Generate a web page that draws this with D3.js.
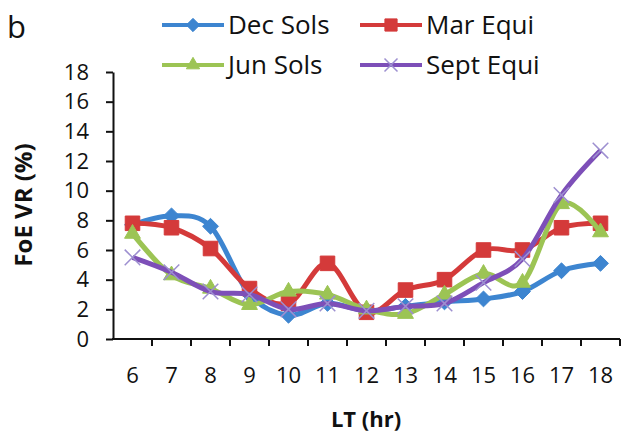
<!DOCTYPE html>
<html>
<head>
<meta charset="utf-8">
<script src="https://cdn.jsdelivr.net/npm/d3@7"></script>
<style>
  body { margin: 0; background: #fff; }
  text { font-family: "Open Sans", sans-serif; fill: #111; }
</style>
</head>
<body>
<svg id="chart" width="625" height="441"></svg>
<script>
// local time (hr)
const hours = [6, 7, 8, 9, 10, 11, 12, 13, 14, 15, 16, 17, 18];
// FoE VR (%) per season
const decSols  = [7.7, 8.3, 7.6, 3.0, 1.6, 2.4, 1.9, 2.2, 2.5, 2.7, 3.2, 4.6, 5.1];
const marEqui  = [7.8, 7.5, 6.1, 3.4, 2.4, 5.1, 1.8, 3.3, 4.0, 6.0, 6.0, 7.5, 7.8];
const junSols  = [7.1, 4.3, 3.4, 2.3, 3.2, 3.0, 2.0, 1.7, 3.0, 4.4, 3.8, 9.1, 7.2];
const septEqui = [5.5, 4.5, 3.2, 3.0, 2.0, 2.4, 1.9, 2.2, 2.4, 3.8, 5.4, 9.7, 12.7];
const seriesNames = ["Dec Sols", "Mar Equi", "Jun Sols", "Sept Equi"];
const yTicks = [0, 2, 4, 6, 8, 10, 12, 14, 16, 18];

const series = [
  { name: seriesNames[0], values: decSols,  color: "#3d85d0", marker: d3.symbolDiamond2, size: 160 },
  { name: seriesNames[1], values: marEqui,  color: "#d43a3a", marker: d3.symbolSquare2,  size: 270 },
  { name: seriesNames[2], values: junSols,  color: "#9cc454", marker: d3.symbolTriangle2, size: 180 },
  { name: seriesNames[3], values: septEqui, color: "#7d4fb8", marker: d3.symbolX,        size: 160 }
];

const svg = d3.select("#chart");

const x = d3.scaleBand().domain(hours).range([113, 620]).padding(0);
const y = d3.scaleLinear().domain([0, 18]).range([339, 72]);

// y axis
const yAxis = svg.append("g")
  .attr("transform", "translate(113,0)")
  .call(d3.axisLeft(y).tickValues(yTicks).tickSize(7).tickSizeOuter(0).tickPadding(17));
yAxis.select(".domain").attr("stroke", "#111").attr("stroke-width", 2);
yAxis.selectAll(".tick line").attr("stroke", "#111").attr("stroke-width", 2);
yAxis.selectAll(".tick text").attr("font-size", 22).attr("font-family", "Open Sans").attr("fill", "#111");

// x axis: ticks sit between categories, like Excel
const xAxis = svg.append("g").attr("transform", "translate(0,339)");
xAxis.append("line")
  .attr("x1", 112).attr("x2", 620)
  .attr("stroke", "#111").attr("stroke-width", 2);
xAxis.selectAll(".bound")
  .data(hours)
  .enter().append("line")
  .attr("x1", d => x(d) + x.bandwidth()).attr("x2", d => x(d) + x.bandwidth())
  .attr("y1", 0).attr("y2", 7)
  .attr("stroke", "#111").attr("stroke-width", 2);
xAxis.selectAll(".lab")
  .data(hours)
  .enter().append("text")
  .attr("x", d => x(d) + x.bandwidth() / 2)
  .attr("y", 44)
  .attr("text-anchor", "middle")
  .attr("font-size", 22)
  .text(d => d);

// axis titles
svg.append("text")
  .attr("x", 366).attr("y", 427)
  .attr("text-anchor", "middle")
  .attr("font-size", 22).attr("font-weight", "bold")
  .text("LT (hr)");

svg.append("text")
  .attr("transform", "translate(32,205) rotate(-90)")
  .attr("text-anchor", "middle")
  .attr("font-size", 24).attr("font-weight", "bold")
  .text("FoE VR (%)");

svg.append("text")
  .attr("x", 7).attr("y", 38)
  .attr("font-size", 31)
  .text("b");

// lines + markers
const line = d3.line()
  .x((d, i) => x(hours[i]) + x.bandwidth() / 2)
  .y(d => y(d))
  .curve(d3.curveCatmullRom.alpha(0));

series.forEach(s => {
  const g = svg.append("g");
  g.append("path")
    .datum(s.values)
    .attr("fill", "none")
    .attr("stroke", s.color)
    .attr("stroke-width", 5)
    .attr("d", line);
  const isX = s.marker === d3.symbolX;
  g.selectAll("path.m")
    .data(s.values)
    .enter().append("path")
    .attr("class", "m")
    .attr("transform", (d, i) => `translate(${x(hours[i]) + x.bandwidth() / 2},${y(d)})`)
    .attr("d", d3.symbol().type(s.marker).size(s.size))
    .attr("fill", isX ? "none" : s.color)
    .attr("stroke", isX ? "#9d8fd0" : s.color)
    .attr("stroke-width", isX ? 1.5 : 1);
});

// legend
const legendPos = [
  { lx: 162, ly: 25 }, { lx: 360, ly: 25 },
  { lx: 162, ly: 65 }, { lx: 360, ly: 65 }
];
series.forEach((s, i) => {
  const p = legendPos[i];
  const g = svg.append("g");
  g.append("line")
    .attr("x1", p.lx).attr("x2", p.lx + 62)
    .attr("y1", p.ly).attr("y2", p.ly)
    .attr("stroke", s.color).attr("stroke-width", 4);
  const isX = s.marker === d3.symbolX;
  g.append("path")
    .attr("transform", `translate(${p.lx + 31},${p.ly})`)
    .attr("d", d3.symbol().type(s.marker).size(s.size * 0.7))
    .attr("fill", isX ? "none" : s.color)
    .attr("stroke", isX ? "#9d8fd0" : s.color)
    .attr("stroke-width", isX ? 1.5 : 1);
  g.append("text")
    .attr("x", p.lx + 66).attr("y", p.ly + 9)
    .attr("font-size", 26)
    .text(s.name);
});
</script>
</body>
</html>
